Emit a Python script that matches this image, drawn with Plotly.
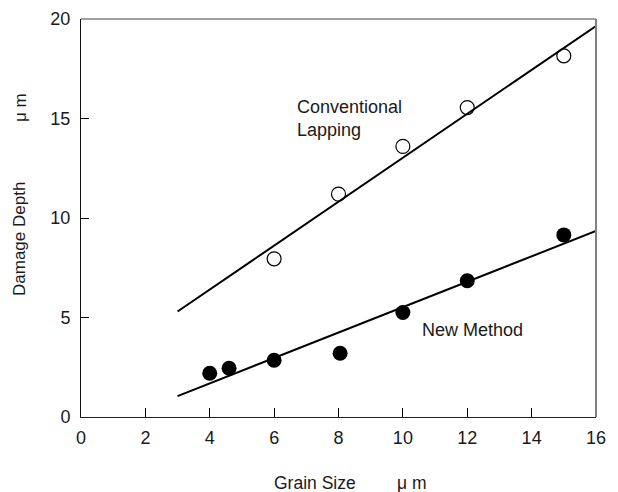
import plotly.graph_objects as go

# Data
conv_x = [6, 8, 10, 12, 15]
conv_y = [7.95, 11.2, 13.6, 15.55, 18.15]
new_x = [4, 4.6, 6, 8.05, 10, 12, 15]
new_y = [2.2, 2.45, 2.85, 3.2, 5.25, 6.85, 9.15]
conv_fit_x = [3, 16]
conv_fit_y = [5.3, 19.65]
new_fit_x = [3, 16]
new_fit_y = [1.05, 9.35]
x_ticks = [0, 2, 4, 6, 8, 10, 12, 14, 16]
y_ticks = [0, 5, 10, 15, 20]

W, H = 618, 492
L, R, T, B = 81, 22, 19, 75
pw, ph = W - L - R, H - T - B

def px(x):
    return (x - L) / pw

def py(y):
    return (H - B - y) / ph

FONT = "Liberation Sans, Arial, sans-serif"
TXT = "#1a1a1a"

fig = go.Figure()
fig.add_trace(go.Scatter(x=conv_fit_x, y=conv_fit_y, mode="lines",
                         line=dict(color="black", width=2), showlegend=False))
fig.add_trace(go.Scatter(x=new_fit_x, y=new_fit_y, mode="lines",
                         line=dict(color="black", width=2), showlegend=False))
fig.add_trace(go.Scatter(x=conv_x, y=conv_y, mode="markers",
                         marker=dict(symbol="circle-open", size=14, color="black",
                                     line=dict(width=1.2, color="black")),
                         showlegend=False))
fig.add_trace(go.Scatter(x=new_x, y=new_y, mode="markers",
                         marker=dict(symbol="circle", size=15, color="black"),
                         showlegend=False))

fig.update_layout(
    width=W, height=H,
    margin=dict(l=L, r=R, t=T, b=B, autoexpand=False),
    paper_bgcolor="white", plot_bgcolor="white",
    font=dict(family=FONT, size=17, color=TXT),
    hovermode=False,
    xaxis=dict(range=[0, 16], tickvals=x_ticks, ticktext=[str(v) for v in x_ticks],
               ticks="inside", ticklen=9, tickwidth=1, tickcolor="black",
               showline=True, linecolor="#222", linewidth=1,
               showgrid=False, zeroline=False, fixedrange=True,
               ticklabelstandoff=4,
               tickfont=dict(size=18, color=TXT)),
    yaxis=dict(range=[0, 20], tickvals=y_ticks, ticktext=[str(v) for v in y_ticks],
               ticks="inside", ticklen=8, tickwidth=1, tickcolor="black",
               showline=True, linecolor="#111", linewidth=1,
               showgrid=False, zeroline=False, fixedrange=True,
               ticklabelstandoff=6,
               tickfont=dict(size=18, color=TXT)),
    shapes=[
        dict(type="line", xref="paper", yref="paper", x0=0, x1=1, y0=1, y1=1,
             line=dict(color="#444", width=1)),
        dict(type="line", xref="paper", yref="paper", x0=1, x1=1, y0=0, y1=1,
             line=dict(color="#808080", width=2)),
    ],
    annotations=[
        dict(text="Conventional<br>Lapping", xref="paper", yref="paper",
             x=px(295), y=py(118), xanchor="left", yanchor="middle", align="left",
             showarrow=False, font=dict(size=18, color=TXT)),
        dict(text="New Method", xref="paper", yref="paper",
             x=px(420), y=py(330), xanchor="left", yanchor="middle",
             showarrow=False, font=dict(size=18, color=TXT)),
        dict(text="Damage Depth", xref="paper", yref="paper",
             x=px(20), y=py(239), xanchor="center", yanchor="middle",
             textangle=-90, showarrow=False, font=dict(size=17, color=TXT)),
        dict(text="μ m", xref="paper", yref="paper",
             x=px(20), y=py(108), xanchor="center", yanchor="middle",
             textangle=-90, showarrow=False, font=dict(size=17, color=TXT)),
        dict(text="Grain Size", xref="paper", yref="paper",
             x=px(315), y=py(483), xanchor="center", yanchor="middle",
             showarrow=False, font=dict(size=17.5, color=TXT)),
        dict(text="μ m", xref="paper", yref="paper",
             x=px(412), y=py(483), xanchor="center", yanchor="middle",
             showarrow=False, font=dict(size=17.5, color=TXT)),
    ],
)

fig.write_html("out.html", config={"displayModeBar": False},
               post_script="document.body.style.margin='0';")
